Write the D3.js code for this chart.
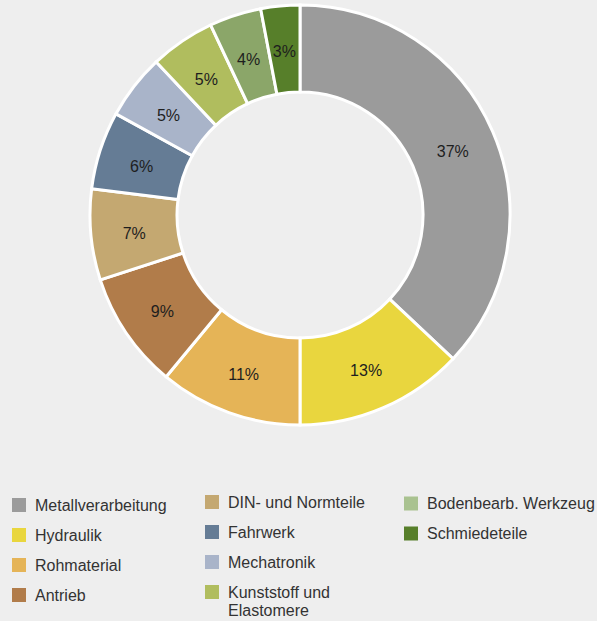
<!DOCTYPE html>
<html>
<head>
<meta charset="utf-8">
<script src="https://cdn.jsdelivr.net/npm/d3@7"></script>
<style>
  body { margin: 0; background: #eeeeee; }
  svg { display: block; font-family: "Liberation Sans", Arial, Helvetica, sans-serif; }
</style>
</head>
<body>
<div id="chart"></div>
<script>
const categories = ['Metallverarbeitung', 'Hydraulik', 'Rohmaterial', 'Antrieb', 'DIN- und Normteile',
  'Fahrwerk', 'Mechatronik', 'Kunststoff und Elastomere', 'Bodenbearb. Werkzeug', 'Schmiedeteile'];
const shares = [37, 13, 11, 9, 7, 6, 5, 5, 4, 3];
const colors = ['#9b9b9b', '#e9d63e', '#e5b457', '#b17c4a', '#c4a871',
  '#657c95', '#a9b4c9', '#b0bd5e', '#8ba669', '#577f2a'];
const legendColors = ['#9b9b9b', '#e9d63e', '#e5b457', '#b17c4a', '#c4a871',
  '#657c95', '#a9b4c9', '#b0bd5e', '#a9c290', '#577f2a'];
// legend text lines (Kunststoff wraps)
const legendLines = [['Metallverarbeitung'], ['Hydraulik'], ['Rohmaterial'], ['Antrieb'], ['DIN- und Normteile'],
  ['Fahrwerk'], ['Mechatronik'], ['Kunststoff und', 'Elastomere'], ['Bodenbearb. Werkzeug'], ['Schmiedeteile']];

const width = 597;
const height = 621;

const svg = d3.select('#chart').append('svg')
  .attr('width', width)
  .attr('height', height);

svg.append('rect').attr('width', width).attr('height', height).attr('fill', '#eeeeee');

const data = categories.map((c, i) => ({ name: c, value: shares[i], color: colors[i] }));

const pie = d3.pie().sort(null).value(d => d.value);
const arc = d3.arc().innerRadius(123).outerRadius(210);

const g = svg.append('g').attr('transform', 'translate(300,215)');

const arcs = pie(data);

g.selectAll('path')
  .data(arcs)
  .join('path')
  .attr('d', arc)
  .attr('fill', d => d.data.color)
  .attr('stroke', '#ffffff')
  .attr('stroke-width', 3)
  .attr('stroke-linejoin', 'miter');

g.selectAll('text')
  .data(arcs)
  .join('text')
  .attr('transform', d => `translate(${arc.centroid(d)})`)
  .attr('text-anchor', 'middle')
  .attr('dy', '0.5em')
  .attr('font-size', 16)
  .attr('fill', '#1e1e1e')
  .text(d => d.data.value + '%');

// legend: 3 columns, 4 rows
const colX = [12, 205, 404];
const colY = [505, 502, 503.5];
const legend = svg.append('g');

categories.forEach((c, i) => {
  const col = Math.floor(i / 4);
  const row = i % 4;
  const cy = colY[col] + row * 30;
  const item = legend.append('g');
  item.append('rect')
    .attr('x', colX[col])
    .attr('y', cy - 7)
    .attr('width', 14)
    .attr('height', 14)
    .attr('fill', legendColors[i]);
  const t = item.append('text')
    .attr('x', colX[col] + 23)
    .attr('y', cy + 5.5)
    .attr('font-size', 16)
    .attr('fill', '#333333');
  legendLines[i].forEach((line, k) => {
    t.append('tspan')
      .attr('x', colX[col] + 23)
      .attr('dy', k === 0 ? 0 : 18)
      .text(line);
  });
});
</script>
</body>
</html>
